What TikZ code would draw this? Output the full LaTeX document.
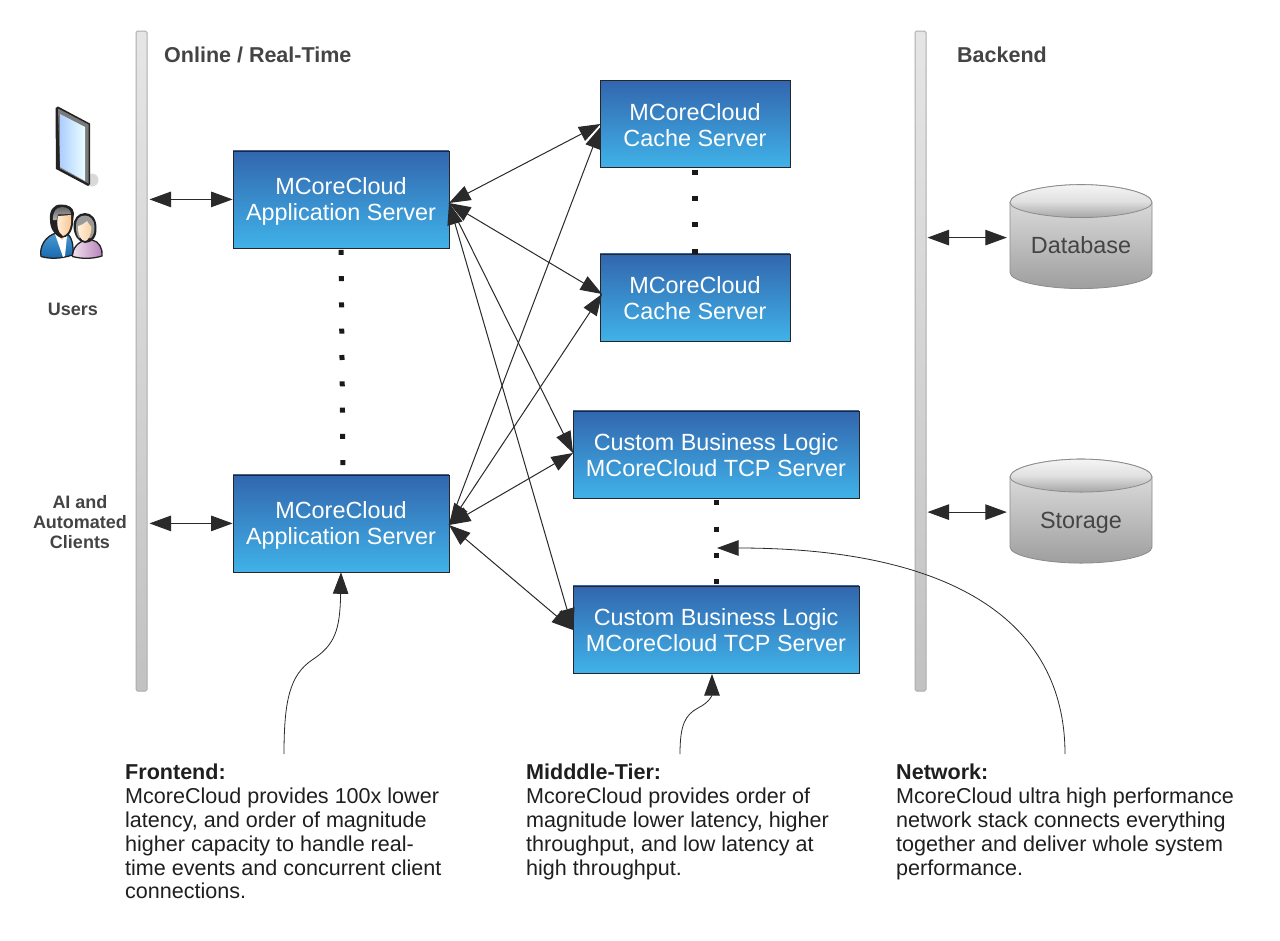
\documentclass[tikz,border=0pt]{standalone}
\usepackage{fontspec}
\setmainfont{Liberation Sans}
\usetikzlibrary{arrows.meta,shadings,calc}
\definecolor{tiptone}{HTML}{2A2A2A}
\definecolor{boxtop}{HTML}{3266AE}
\definecolor{boxbot}{HTML}{40B2E8}
\definecolor{labelgrey}{HTML}{444444}
\definecolor{iconline}{HTML}{222222}
\definecolor{hairgrey}{HTML}{9A9A9A}
\definecolor{skinA}{HTML}{FFF0DC}
\definecolor{skinB}{HTML}{F7C48E}
\definecolor{suitA}{HTML}{4A9AD4}
\definecolor{suitB}{HTML}{1668AE}
\definecolor{lilacA}{HTML}{F2E4F0}
\definecolor{lilacB}{HTML}{B57FB8}
\tikzset{
  x=1pt,y=-1pt,
  >={Triangle[length=21.5pt,width=15.5pt]},
  dbl/.style={<->,line width=1pt,color=tiptone},
  oneway/.style={->,line width=1pt,color=tiptone},
  single/.style={->,line width=0.8pt,color=tiptone},
  srv/.style={draw=black!85,line width=0.8pt,top color=boxtop,bottom color=boxbot,text=white,align=center,inner sep=0pt,font=\fontsize{23.4}{25.6}\selectfont},
  rail/.style={draw=black!32,line width=1pt,top color=black!10,bottom color=black!24,rounded corners=1.5pt,minimum width=11pt,minimum height=660pt,inner sep=0pt},
  dots/.style={line width=5pt,color=black!90,dash pattern=on 5pt off 21.3pt},
  hdr/.style={anchor=base west,inner sep=0pt,text=labelgrey,font=\bfseries\fontsize{21.5}{25}\selectfont},
  side/.style={inner sep=0pt,text=labelgrey,align=center,font=\bfseries\fontsize{18}{20}\selectfont},
  note/.style={anchor=north west,inner sep=0pt,align=left,text=black!88,font=\fontsize{21.55}{23.8}\selectfont},
  cyl/.style={inner sep=0pt,minimum width=142pt,minimum height=104pt,text=labelgrey,font=\fontsize{23.4}{26}\selectfont},
  iconedge/.style={draw=iconline,line width=1.3pt,line join=round},
}
\newcommand{\tup}{\rule{0pt}{21pt}}
\newcommand{\tupb}{\rule{0pt}{19pt}}
\newcommand{\cylshape}[2]{%
  \path[draw=black!45,line width=0.8pt,top color=black!10,bottom color=black!38]
    (#1-71,#2-35) -- (#1-71,#2+35) .. controls (#1-71,#2+44) and (#1-35,#2+51) .. (#1,#2+51)
    .. controls (#1+35,#2+51) and (#1+71,#2+44) .. (#1+71,#2+35) -- (#1+71,#2-35)
    .. controls (#1+71,#2-45) and (#1+35,#2-53) .. (#1,#2-53)
    .. controls (#1-35,#2-53) and (#1-71,#2-45) .. (#1-71,#2-35) -- cycle;
  \path[draw=black!45,line width=0.8pt,top color=black!4,bottom color=black!35,middle color=black!12]
    (#1-71,#2-35) .. controls (#1-71,#2-27) and (#1-35,#2-20) .. (#1,#2-20)
    .. controls (#1+35,#2-20) and (#1+71,#2-27) .. (#1+71,#2-35)
    .. controls (#1+71,#2-45) and (#1+35,#2-53) .. (#1,#2-53)
    .. controls (#1-35,#2-53) and (#1-71,#2-45) .. (#1-71,#2-35) -- cycle;
}
\begin{document}
\begin{tikzpicture}
\useasboundingbox[fill=white] (0,0) rectangle (1280,940);

% rails
\node[rail] (railL) at (141.5,361) {};
\node[rail] (railR) at (920.5,361) {};

% servers
\node[srv,minimum width=216pt,minimum height=97pt] (app1) at (341,199.4) {\tup MCoreCloud\\Application Server};
\node[srv,minimum width=216pt,minimum height=97pt] (app2) at (341,523.4) {\tup MCoreCloud\\Application Server};
\node[srv,minimum width=190pt,minimum height=86.5pt] (cache1) at (695,124) {\tupb MCoreCloud\\Cache Server};
\node[srv,minimum width=190pt,minimum height=87pt] (cache2) at (695,297.4) {\tupb MCoreCloud\\Cache Server};
\node[srv,minimum width=286pt,minimum height=87pt] (tcp1) at (716,454.4) {\tupb Custom Business Logic\\MCoreCloud TCP Server};
\node[srv,minimum width=286pt,minimum height=87pt] (tcp2) at (716,629.4) {\tupb Custom Business Logic\\MCoreCloud TCP Server};

% cylinders
\cylshape{1081}{237.6}
\cylshape{1081}{512.1}
\node[cyl] (db) at (1081,237.6) {\raisebox{-16pt}[0pt][0pt]{Database}};
\node[cyl] (store) at (1081,512.1) {\raisebox{-16pt}[0pt][0pt]{Storage}};

% labels
\node[hdr] (hOnline) at (164,62) {Online / Real-Time};
\node[hdr] (hBack) at (957,62) {Backend};
\node[side] (users) at (73,309) {Users};
\node[side] (ai) at (80,522) {AI and\\Automated\\Clients};

% tablet icon
\fill[black!15] (92,180) ellipse (6.5 and 6.5);
\fill[iconline] (55.5,108) -- (58,106.5) -- (90,123.5) -- (90,184) -- (88,186) -- (56,169) -- cycle;
\fill[black!52] (58,108.5) -- (88.5,124.5) -- (88.5,183.5) -- (60,168.5) -- cycle;
\shade[left color=cyan!40!blue!32!white,right color=cyan!8!white] (60,114) -- (85,127) -- (85,181) -- (60,167) -- cycle;

% people icon
\shade[iconedge,left color=lilacA,right color=lilacB] (72.5,256.5) .. controls (72,249) and (78,241) .. (87,240) -- (92,240) .. controls (99,241) and (103,249) .. (102,256) .. controls (92,259) and (82,259) .. (72.5,256.5) -- cycle;
\fill[iconline] (85,213) .. controls (78,213) and (73,219) .. (73.5,227) .. controls (74,235) and (78,242) .. (85,243) .. controls (92,243) and (97,237) .. (96.5,228) .. controls (96.5,219) and (92,213) .. (85,213) -- cycle;
\fill[hairgrey] (85,215.5) .. controls (79,215.5) and (75.5,220) .. (76,227) .. controls (76,232) and (77,236) .. (79,238) -- (91,238) .. controls (94,235) and (94.5,231) .. (94.5,227) .. controls (94.5,220) and (90,215.5) .. (85,215.5) -- cycle;
\shade[left color=skinA,right color=skinB!70!skinA] (78,226) .. controls (82,225) and (85,223) .. (87,221) .. controls (88,223) and (90,225) .. (91.5,227) .. controls (91.5,235) and (88,241) .. (85,241) .. controls (81,241) and (77.5,234) .. (78,226) -- cycle;
\shade[iconedge,top color=suitA,bottom color=suitB] (41,256.5) .. controls (39,246) and (46,236) .. (56,233) -- (66,233) .. controls (72,236) and (74,246) .. (72.5,255) .. controls (60,259) and (50,259) .. (41,256.5) -- cycle;
\fill[white] (55,234) -- (67,236) -- (65,256) -- (63,257) -- cycle;
\fill[skinB] (56,232) -- (66,235) -- (62,240) -- cycle;
\fill[iconline] (61,204.5) .. controls (53,204.5) and (49,211) .. (50,220) .. controls (50,228) and (54,235) .. (61,238) .. controls (68,238) and (73,231) .. (73,222) -- (74,213) .. controls (73,207) and (68,204.5) .. (61,204.5) -- cycle;
\shade[top color=black!60,bottom color=black!30] (62,207) .. controls (56,207) and (52.5,212) .. (53,220) -- (56.5,220) -- (58,214.5) -- (71,214) .. controls (71,210) and (67,207) .. (62,207) -- cycle;
\shade[left color=skinA,right color=skinB] (58,216) -- (71,215) .. controls (72,224) and (70,234) .. (63,236) .. controls (58,233) and (56,224) .. (58,216) -- cycle;

% dotted links between peers
\draw[dots] (app1.south) ++(0,1.5) -- ($(app2.north)+(2,-8)$);
\draw[dots,line width=6pt] (cache1.south) ++(0,2) -- (cache2.north);
\draw[dots,line width=5pt] (tcp1.south) ++(0,2) -- (tcp2.north);

% connector ends
\coordinate (a1p) at (449,203);
\coordinate (a2p) at (449,525);
\coordinate (c1p) at (600.5,124);
\coordinate (c1q) at (600.5,127);
\coordinate (c2p) at (602,294);
\coordinate (t1p) at (573,453);
\coordinate (t2p) at (573,630);

\draw[dbl] (a1p) -- (c1p);
\draw[dbl] (a1p) -- (c2p);
\draw[oneway] (a1p) -- (t1p);
\draw[dbl] (a1p) -- (t2p);
\draw[oneway] (a2p) -- (c1q);
\draw[dbl] (a2p) -- (c2p);
\draw[dbl] (a2p) -- (t1p);
\draw[dbl] (a2p) -- (t2p);

\draw[dbl,shorten <=2pt] (railL.east |- app1.west) -- (app1.west);
\draw[dbl,shorten <=2pt] (railL.east |- app2.west) -- (app2.west);
\draw[dbl,shorten <=1pt,shorten >=3pt] (railR.east |- db.west) -- (db.west);
\draw[dbl,shorten <=1pt,shorten >=3pt] (railR.east |- store.west) -- (store.west);

% notes
\node[note] (nF) at (125,764) {\textbf{Frontend:}\\McoreCloud provides 100x lower\\latency, and order of magnitude\\higher capacity to handle real-\\time events and concurrent client\\connections.};
\node[note] (nM) at (526,764) {\textbf{Midddle-Tier:}\\McoreCloud provides order of\\magnitude lower latency, higher\\throughput, and low latency at\\high throughput.};
\node[note] (nN) at (896,764) {\textbf{Network:}\\McoreCloud ultra high performance\\network stack connects everything\\together and deliver whole system\\performance.};

\coordinate (fF) at (284,754);
\coordinate (fM) at (680,754);
\coordinate (fN) at (1065,754);
\coordinate (tN) at (717,548);

\draw[single] (fF) .. controls (284,700) and (290,675) .. (312,660) .. controls (335,645) and (340,630) .. (app2.south);
\draw[single] (fM) .. controls (680,725) and (685,715) .. (698,708) .. controls (710,702) and (712,695) .. (712,674);
\draw[single] (fN) .. controls (1065,620) and (950,548) .. (tN);
\end{tikzpicture}
\end{document}
